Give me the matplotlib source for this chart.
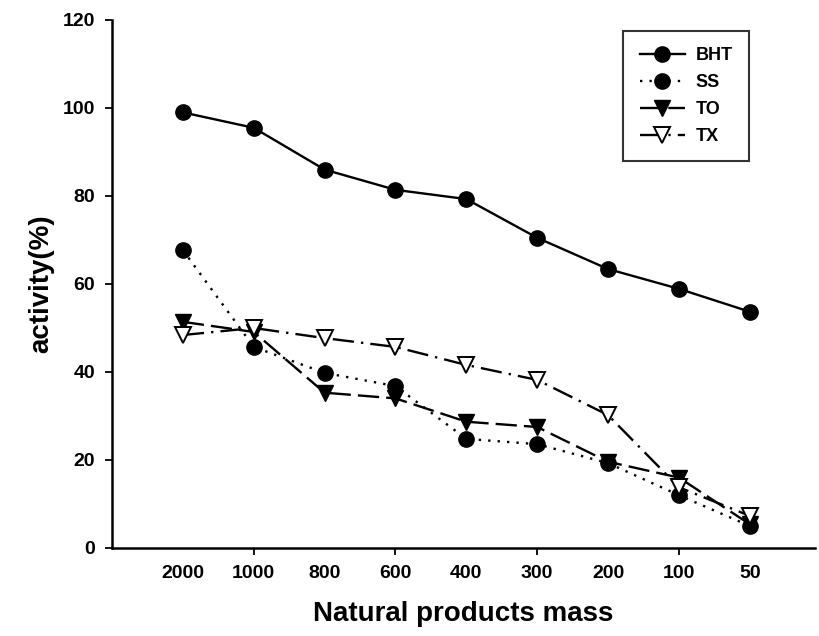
import numpy as np
import matplotlib.pyplot as plt
from matplotlib.ticker import FixedLocator

# -------------------------
# Data
# -------------------------
MASS_LABELS = ["2000", "1000", "800", "600", "400", "300", "200", "100", "50"]

BHT = [99, 95.5, 86, 81.4, 79.3, 70.5, 63.4, 58.9, 53.7]
SS = [67.7, 45.7, 39.8, 36.8, 24.8, 23.6, 19.3, 12.0, 5.0]
TO = [51.4, 49.1, 35.3, 34.0, 28.7, 27.5, 19.6, 16.0, 5.4]
TX = [48.4, 50.0, 47.7, 45.7, 41.6, 38.2, 30.2, 13.8, 7.3]

Y_TICKS = [0, 20, 40, 60, 80, 100, 120]

plt.rcParams["font.family"] = ["Liberation Sans", "DejaVu Sans"]
plt.rcParams["font.weight"] = "bold"

x = np.arange(1, len(MASS_LABELS) + 1)

fig = plt.figure(figsize=(8.2, 6.36), dpi=100, facecolor="white")
ax = fig.add_axes([112 / 820, 1 - 548 / 636, (815 - 112) / 820, (548 - 20) / 636])

LW = 1.7
MS = 11

ax.plot(x, BHT, color="black", lw=LW, ls="-", marker="o", ms=MS,
        mfc="black", mec="black", label="BHT")
ax.plot(x, SS, color="black", lw=LW, ls=(0, (1, 3)), marker="o", ms=MS,
        mfc="black", mec="black", label="SS")
ax.plot(x, TO, color="black", lw=LW, ls=(0, (9, 3)), marker="v", ms=MS,
        mfc="black", mec="black", label="TO")
ax.plot(x, TX, color="black", lw=LW, ls=(0, (9, 3, 1, 3)), marker="v", ms=MS,
        mfc="white", mec="black", mew=1.4, label="TX")

ax.set_xlim(0, 9.92)
ax.set_ylim(0, 120)

# major ticks every two categories (marks only), labels on each category
ax.xaxis.remove_overlapping_locs = False
ax.xaxis.set_major_locator(FixedLocator([2, 4, 6, 8]))
ax.xaxis.set_major_formatter(plt.NullFormatter())
ax.xaxis.set_minor_locator(FixedLocator(x))
ax.set_xticklabels(MASS_LABELS, minor=True)
ax.tick_params(axis="x", which="major", direction="out", length=5, width=1.3)
ax.tick_params(axis="x", which="minor", length=0, pad=12, labelsize=14)

ax.set_yticks(Y_TICKS)
ax.tick_params(axis="y", direction="out", length=5, width=1.3, pad=7, labelsize=14)

for side in ["top", "right"]:
    ax.spines[side].set_visible(False)
ax.spines["left"].set_linewidth(1.8)
ax.spines["bottom"].set_linewidth(1.8)

ax.set_ylabel("activity(%)", fontsize=20, fontweight="bold", labelpad=6)
ax.set_xlabel("Natural products mass", fontsize=20, fontweight="bold", labelpad=14)

leg = ax.legend(
    loc="upper right",
    bbox_to_anchor=(0.906, 0.979),
    fontsize=13,
    frameon=True,
    fancybox=False,
    edgecolor="black",
    handlelength=2.5,
    handletextpad=0.6,
    labelspacing=0.55,
    borderpad=0.9,
    borderaxespad=0,
)
leg.get_frame().set_linewidth(1.5)
for t in leg.get_texts():
    t.set_fontweight("bold")

fig.savefig("out.png", dpi=100, facecolor="white")
